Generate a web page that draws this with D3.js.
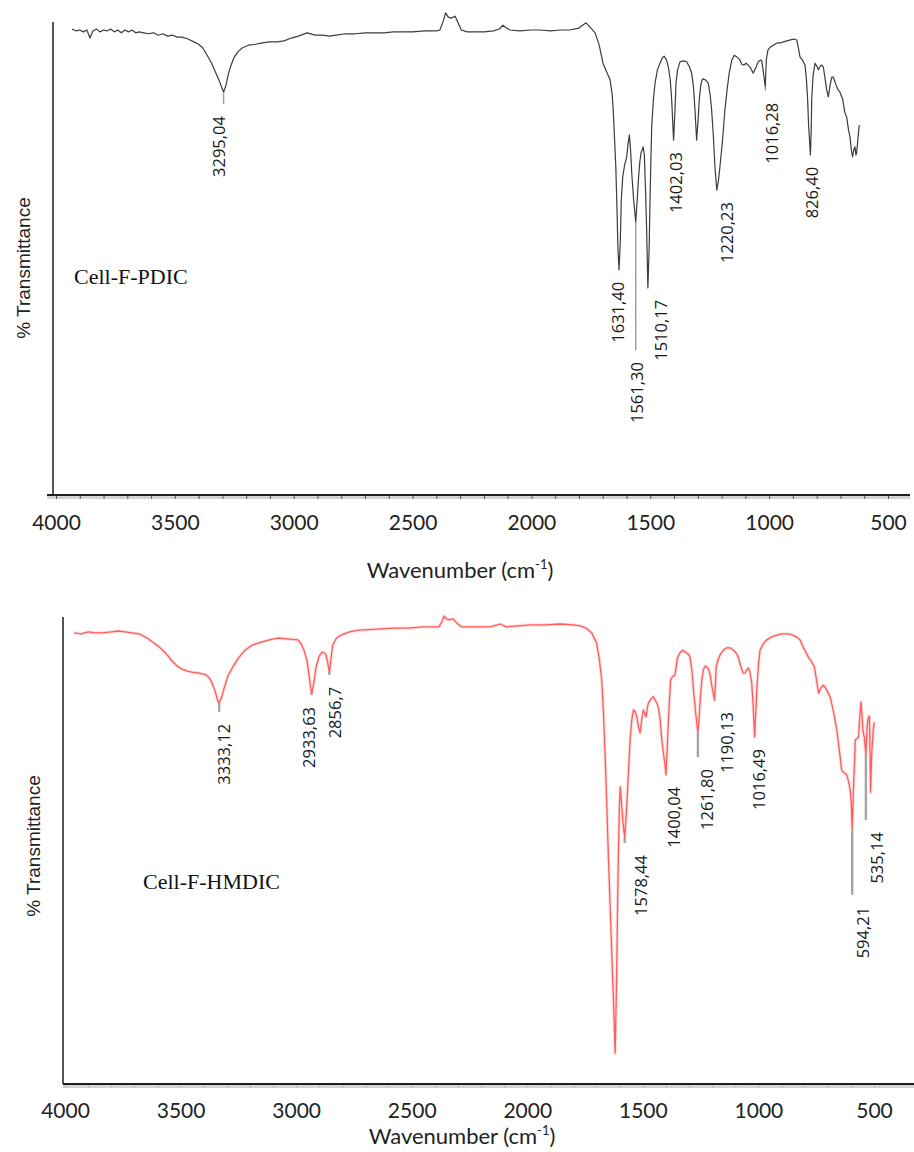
<!DOCTYPE html>
<html>
<head>
<meta charset="utf-8">
<script src="https://cdn.jsdelivr.net/npm/d3@7/dist/d3.min.js"></script>
<style>
  html, body { margin: 0; padding: 0; background: #fff; }
  svg { display: block; }
</style>
</head>
<body>
<svg id="chart" width="914" height="1152"></svg>
<script>
// ---- FTIR spectrum of Cell-F-PDIC (wavenumber cm-1, % transmittance) ----
const pdicWn = [3933,3915,3900,3885,3870,3857,3845,3830,3815,3800,3785,3770,3755,3740,3725,3710,3695,3680,3665,3650,
  3631,3610,3590,3570,3550,3530,3510,3490,3470,3445,3420,3400,3382,3360,3345,3330,3315,3305,3295,3285,
  3275,3265,3250,3235,3217,3190,3160,3133,3100,3070,3041,3010,2980,2944,2910,2880,2850,2822,2780,2740,
  2700,2666,2620,2580,2540,2500,2450,2400,2385,2372,2361,2350,2338,2321,2310,2295,2270,2230,2199,2160,
  2135,2120,2105,2090,2050,2000,1964,1920,1880,1840,1800,1785,1770,1754,1732,1715,1699,1684,1669,1660,
  1656,1650,1645,1640,1636,1631.4,1626,1622,1616,1608,1599,1594,1588,1583,1578,1570,1561.3,1555,1550,1544,
  1539,1530,1525,1520,1515,1510.17,1505,1501,1497,1494,1487,1480,1470,1459,1450,1442,1432,1424,1416,1410,
  1402.03,1396,1392,1385,1375,1360,1347,1335,1326,1318,1312,1305,1299,1294,1287,1280,1268,1256,1248,1242,
  1235,1228,1220.23,1213,1207,1196,1186,1176,1168,1157,1147,1135,1123,1115,1106,1097,1088,1078,1067,1055,
  1046,1036,1031,1025,1016.28,1012,1005,995,982,965,950,940,925,910,895,884,877,870,860,849,
  843,838,834,826.4,823,821,815,807,800,793,785,778,772,764,758,751,743,736,730,720,
  710,702,690,682,674,666,660,654,649,644,639,635,632,627,621];
const pdicT = [98.1,97.7,97.9,97.5,97.9,96.2,97.7,98.1,97.5,97.9,97.7,98.1,97.5,97.9,97.3,97.9,97.5,97.9,97.3,97.5,
  97.3,97.1,97.3,96.8,97.1,96.6,96.8,96.4,96.4,96.0,95.4,94.9,94.1,92.2,90.9,89.1,87.4,86.1,84.8,86.3,
  88.6,90.3,92.2,93.3,94.1,94.7,94.9,95.2,95.4,95.4,95.6,96.2,96.6,97.3,96.8,96.8,96.6,96.8,97.1,97.1,
  97.3,97.3,97.3,97.5,97.5,97.5,97.7,97.7,97.9,99.6,101.5,100.6,100.4,100.8,99.6,97.9,97.5,97.5,97.5,97.7,
  98.1,98.9,98.3,97.9,97.7,97.9,97.9,97.7,97.9,97.9,98.3,98.9,99.4,98.5,97.3,94.7,90.9,89.1,87.4,84.2,
  81.1,74.7,69.1,60.0,51.6,47.4,53.7,62.1,66.9,69.5,71.2,73.7,75.8,72.6,67.8,62.1,57.5,62.1,66.3,70.1,
  72.0,73.3,71.6,64.2,55.2,43.6,51.6,62.1,71.6,77.5,83.2,86.7,89.5,90.9,92.0,92.4,91.6,90.1,87.4,83.2,
  74.7,81.1,86.7,89.5,91.2,91.4,91.2,90.1,88.8,85.7,81.1,74.7,78.9,83.2,86.5,87.6,87.4,86.7,84.2,81.1,
  75.8,69.1,64.2,66.3,69.1,74.7,81.1,85.7,88.8,91.6,92.6,92.2,91.6,90.7,90.5,90.9,90.5,89.9,88.8,90.1,
  91.2,91.6,91.4,89.3,85.9,91.6,93.7,94.3,94.7,95.2,95.2,95.4,95.6,95.8,96.0,95.8,94.1,92.2,91.6,90.5,
  87.4,83.2,77.9,71.6,76.8,83.2,88.4,90.9,90.3,89.5,90.3,90.5,90.1,87.4,85.3,83.8,86.5,88.0,88.0,86.5,
  85.3,84.8,83.2,80.6,79.6,76.8,75.4,72.6,71.2,72.6,73.3,71.6,72.0,74.7,77.9];

// Labelled bands of Cell-F-PDIC: band position, label, lower end of the marker (% T), label anchor (cm-1)
const pdicPeakWn = [3295.04, 1631.40, 1561.30, 1510.17, 1402.03, 1220.23, 1016.28, 826.40];
const pdicPeakText = ["3295,04", "1631,40", "1561,30", "1510,17", "1402,03", "1220,23", "1016,28", "826,40"];
const pdicPeakTail = [82.3, 47.4, 30.5, 43.6, 74.7, 64.2, 85.1, 71.6];
const pdicLabelWn = [3318, 1640, 1556, 1459, 1396, 1181, 992, 820];

// ---- FTIR spectrum of Cell-F-HMDIC ----
const hmdicWn = [3960,3930,3900,3870,3840,3800,3771,3740,3710,3680,3645,3620,3593,3565,3541,3515,3495,3470,3450,3420,
  3390,3375,3364,3350,3340,3333,3322,3310,3295,3274,3250,3221,3190,3152,3115,3080,3040,2992,2978,2966,
  2952,2940,2933,2925,2914,2900,2888,2872,2864,2856,2850,2842,2825,2807,2770,2728,2650,2580,2516,2450,
  2383,2370,2360,2350,2339,2321,2305,2286,2230,2161,2130,2118,2100,2092,2040,1985,1920,1858,1800,1772,
  1745,1721,1700,1688,1678,1670,1663,1656,1649,1641,1634,1628,1624,1620,1617,1613,1610,1606,1602,1598,
  1595,1591,1585,1578.44,1570,1562,1555,1548,1541,1533,1526,1519,1512,1505,1498,1492,1486,1480,1476,1468,
  1461,1454,1447,1440,1433,1425,1418,1410,1404,1400.04,1395,1390,1385,1380,1372,1361,1355,1351,1340,1328,
  1317,1305,1296,1288,1281,1272,1261.8,1256,1252,1245,1238,1230,1223,1216,1209,1200,1190.13,1186,1183,1175,
  1166,1152,1137,1122,1108,1097,1087,1080,1072,1065,1058,1050,1043,1036,1029,1023,1016.49,1012,1007,1000,
  993,980,964,945,921,900,870,849,835,820,805,795,784,770,758,750,740,730,718,705,
  690,675,661,650,640,628,618,610,603,598,594.21,589,584,581,574,567,561,556,552,548,
  542,535.14,530,526,520,517,515,512,509,504,499];
const hmdicT = [96.6,96.4,96.8,96.6,96.6,96.8,97.0,96.8,96.6,96.4,95.5,94.6,93.6,92.3,90.8,89.5,88.9,88.4,88.2,88.0,
  87.6,86.9,85.9,84.0,82.2,81.6,82.9,85.0,87.4,89.3,91.2,92.9,94.0,94.6,95.1,95.5,95.3,95.1,94.2,92.9,
  90.4,85.9,83.5,85.4,89.3,91.6,92.5,92.1,90.4,88.0,90.8,94.0,95.5,96.1,96.8,97.2,97.4,97.6,97.6,97.9,
  97.9,98.9,100.2,99.6,99.4,99.6,98.7,97.9,97.9,97.9,98.3,98.5,98.1,97.9,98.1,98.3,98.3,98.5,98.3,98.1,
  97.6,96.6,94.4,90.8,86.5,79.0,70.0,59.7,48.6,37.3,27.2,19.1,13.1,6.6,13.7,23.8,36.2,48.6,58.7,63.6,
  61.9,59.3,55.5,52.7,59.3,67.2,73.7,77.9,80.1,79.7,78.6,76.4,75.2,77.9,80.1,79.4,78.6,80.7,81.6,82.2,
  82.7,82.9,82.2,81.6,80.7,77.9,73.7,70.4,68.3,66.2,71.5,77.3,82.2,86.5,87.2,87.6,89.7,91.2,92.3,92.9,
  92.5,92.1,91.4,88.7,84.4,79.7,75.2,79.0,82.2,86.5,88.7,89.5,89.3,88.9,87.6,84.8,82.2,85.4,89.3,90.8,
  91.9,92.9,93.4,93.4,92.9,92.3,91.4,90.1,88.7,88.0,88.0,88.7,89.1,88.0,85.9,81.2,74.3,79.0,84.4,89.7,
  92.9,94.2,95.1,95.7,96.1,96.4,96.4,96.1,95.7,95.1,93.4,92.5,91.4,90.4,89.3,86.9,83.7,84.8,85.4,84.4,
  82.9,79.7,75.8,71.5,67.2,66.6,66.2,64.7,63.0,59.7,54.4,63.0,69.4,73.7,73.9,74.3,79.0,81.8,79.0,75.8,
  74.3,70.4,76.4,78.2,78.8,70.7,62.5,67.9,71.5,75.4,77.5];

const hmdicPeakWn = [3333.12, 2933.63, 2856.7, 1578.44, 1400.04, 1261.80, 1190.13, 1016.49, 594.21, 535.14];
const hmdicPeakText = ["3333,12", "2933,63", "2856,7", "1578,44", "1400,04", "1261,80", "1190,13", "1016,49", "594,21", "535,14"];
const hmdicPeakTail = [79.7, 83.3, 87.6, 51.6, 66.2, 70.0, 82.2, 74.3, 40.5, 56.5];
const hmdicLabelWn = [3316, 2948, 2832, 1512, 1369, 1226, 1140, 1001, 551, 491];

// Axis tick labels (cm-1)
const xTickLabels = [4000, 3500, 3000, 2500, 2000, 1500, 1000, 500];
const xMinorTicks = d3.range(4000, 499, -100);

const svg = d3.select("#chart");

function zip(wn, t) { return wn.map((w, i) => ({ wn: w, t: t[i] })); }

function valueAt(series, w) {
  // linear interpolation on a descending-wavenumber series
  for (let i = 0; i < series.length - 1; i++) {
    const a = series[i], b = series[i + 1];
    if (w <= a.wn && w >= b.wn) {
      const f = (a.wn - w) / (a.wn - b.wn);
      return a.t + f * (b.t - a.t);
    }
  }
  return series[series.length - 1].t;
}

function drawPanel(cfg) {
  const g = svg.append("g");
  const x = d3.scaleLinear().domain([4000, 500]).range([cfg.x0, cfg.x1]);
  const y = d3.scaleLinear().domain([0, 100]).range([cfg.yBottom, cfg.yTop100]);
  const series = zip(cfg.wn, cfg.t);

  // frame: vertical axis line and horizontal axis
  g.append("line")
    .attr("x1", cfg.yAxisX).attr("x2", cfg.yAxisX)
    .attr("y1", cfg.frameTop).attr("y2", cfg.yBottom)
    .attr("stroke", "#2a2a2a").attr("stroke-width", 1.6);

  // grey shadow band under the horizontal axis
  g.append("rect")
    .attr("x", cfg.axisLeft).attr("y", cfg.yBottom + 0.8)
    .attr("width", cfg.axisRight - cfg.axisLeft).attr("height", 3.2)
    .attr("fill", "#d4d4d4");

  // minor ticks every 100 cm-1
  const minor = d3.axisBottom(x).tickValues(xMinorTicks).tickSize(4).tickFormat("");
  const gm = g.append("g").attr("transform", `translate(0,${cfg.yBottom})`).call(minor);
  gm.select(".domain").remove();
  gm.selectAll(".tick line").attr("stroke", cfg.tickColor).attr("stroke-width", 1);

  g.append("line")
    .attr("x1", cfg.axisLeft).attr("x2", cfg.axisRight)
    .attr("y1", cfg.yBottom).attr("y2", cfg.yBottom)
    .attr("stroke", "#1e1e1e").attr("stroke-width", 1.8);

  // labelled ticks
  const major = d3.axisBottom(x).tickValues(xTickLabels).tickSize(0).tickPadding(cfg.labelPad)
    .tickFormat(d3.format("d"));
  const ga = g.append("g").attr("transform", `translate(0,${cfg.yBottom})`).call(major);
  ga.select(".domain").remove();
  ga.selectAll(".tick text")
    .attr("font-family", "Lato, 'Open Sans', sans-serif")
    .attr("font-size", 21).attr("fill", "#222");

  // axis titles
  const xt = g.append("text")
    .attr("x", cfg.titleX).attr("y", cfg.titleY)
    .attr("text-anchor", "middle")
    .attr("font-family", "Lato, 'Open Sans', sans-serif")
    .attr("font-size", 22).attr("fill", "#222");
  xt.append("tspan").text("Wavenumber (cm");
  xt.append("tspan").attr("font-size", 13).attr("dy", -9).text("-1");
  xt.append("tspan").attr("dy", 9).text(")");

  g.append("text")
    .attr("transform", `translate(${cfg.yTitleX},${cfg.yTitleY}) rotate(-90)`)
    .attr("text-anchor", "middle")
    .attr("dominant-baseline", "central")
    .attr("font-family", "'Liberation Sans', Arial, sans-serif")
    .attr("font-size", 19).attr("fill", "#222")
    .text("% Transmittance");

  // spectrum
  const line = d3.line().x(d => x(d.wn)).y(d => y(d.t)).curve(d3.curveLinear);
  if (cfg.halo) {
    g.append("path").datum(series).attr("d", line)
      .attr("fill", "none").attr("stroke", cfg.halo)
      .attr("stroke-width", 3.2).attr("stroke-opacity", 0.45)
      .attr("stroke-linejoin", "round");
  }
  g.append("path").datum(series).attr("d", line)
    .attr("fill", "none").attr("stroke", cfg.color)
    .attr("stroke-width", cfg.lineWidth).attr("stroke-linejoin", "round");

  // band markers and labels
  const peaks = cfg.peakWn.map((w, i) => ({
    wn: w, text: cfg.peakText[i], tail: cfg.peakTail[i], at: cfg.labelWn[i],
    dip: valueAt(series, w)
  }));
  g.selectAll(".marker").data(peaks.filter(p => p.tail < p.dip - 0.3)).join("line")
    .attr("class", "marker")
    .attr("x1", d => x(d.wn)).attr("x2", d => x(d.wn))
    .attr("y1", d => y(d.dip)).attr("y2", d => y(d.tail))
    .attr("stroke", cfg.markerColor).attr("stroke-width", cfg.markerWidth);

  g.selectAll(".plabel").data(peaks).join("text")
    .attr("class", "plabel")
    .attr("transform", d => `translate(${x(d.at)},${Math.max(y(d.tail), y(d.dip)) + 12}) rotate(-90)`)
    .attr("text-anchor", "end")
    .attr("dominant-baseline", "central")
    .attr("font-family", "'Open Sans', 'DejaVu Sans', sans-serif")
    .attr("font-size", 16.5).attr("fill", "#1a1a1a")
    .text(d => d.text);

  // sample name
  g.append("text")
    .attr("x", cfg.nameX).attr("y", cfg.nameY)
    .attr("font-family", "'Liberation Serif', 'Times New Roman', serif")
    .attr("font-size", 22).attr("fill", "#111")
    .text(cfg.name);
}

drawPanel({
  wn: pdicWn, t: pdicT,
  peakWn: pdicPeakWn, peakText: pdicPeakText, peakTail: pdicPeakTail, labelWn: pdicLabelWn,
  x0: 56, x1: 888, yBottom: 495, yTop100: 20, frameTop: 22,
  yAxisX: 53, axisLeft: 47, axisRight: 910,
  tickColor: "#555", labelPad: 20,
  titleX: 460, titleY: 578, yTitleX: 23, yTitleY: 268,
  color: "#3c3c3c", lineWidth: 1.2, halo: null,
  markerColor: "#9a9a9a", markerWidth: 1.4,
  name: "Cell-F-PDIC", nameX: 74, nameY: 284
});

drawPanel({
  wn: hmdicWn, t: hmdicT,
  peakWn: hmdicPeakWn, peakText: hmdicPeakText, peakTail: hmdicPeakTail, labelWn: hmdicLabelWn,
  x0: 65, x1: 874, yBottom: 1084, yTop100: 617, frameTop: 617,
  yAxisX: 63, axisLeft: 63, axisRight: 914,
  tickColor: "#bbb", labelPad: 19,
  titleX: 462, titleY: 1144, yTitleX: 33, yTitleY: 846,
  color: "#ff5c5c", lineWidth: 1.3, halo: "#ffb3b3",
  markerColor: "#a5a5a5", markerWidth: 2.4,
  name: "Cell-F-HMDIC", nameX: 143, nameY: 889
});
</script>
</body>
</html>
